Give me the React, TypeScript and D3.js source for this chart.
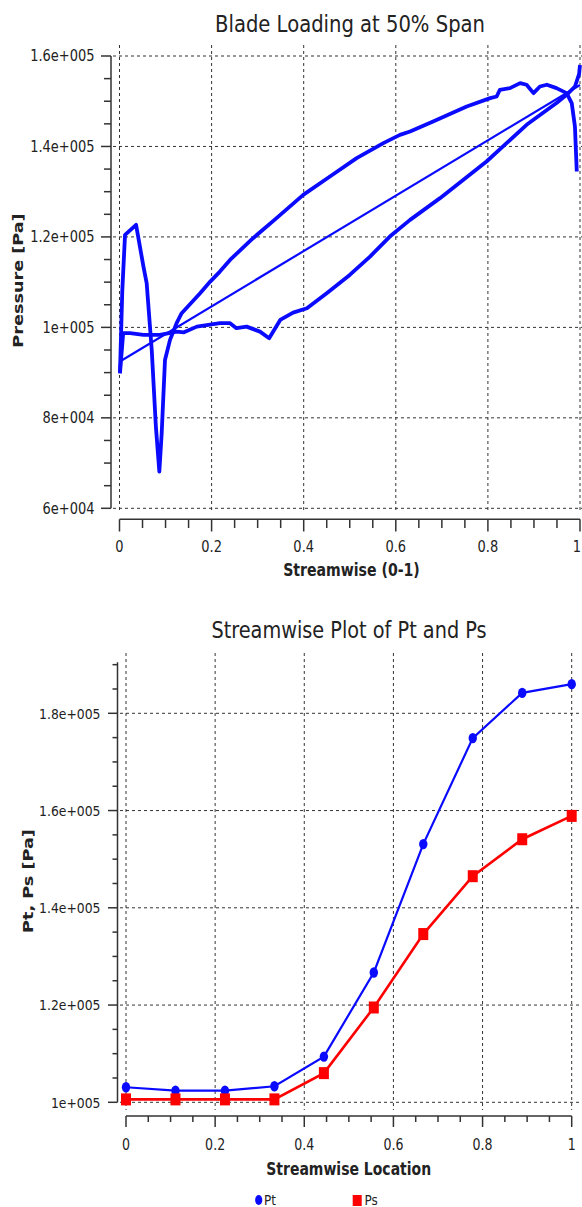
import React from 'react';
import * as d3 from 'd3';

const FONT = '"DejaVu Sans", Verdana, sans-serif';
const SY = 1.2;
const BLUE = '#0a0aff';
const RED = '#ff0000';
const AXIS = '#333333';
const GRID = '#333333';
const TEXT = '#222222';

// ---------- Top chart: Blade Loading at 50% Span ----------
const suctionX = [1.0, 0.998, 0.989, 0.971, 0.949, 0.884, 0.797, 0.696, 0.631, 0.587, 0.544, 0.5, 0.45, 0.407, 0.377, 0.349, 0.325, 0.305, 0.276, 0.254, 0.24, 0.218, 0.168, 0.14, 0.124, 0.088, 0.052, 0.023, 0.008, 0.001];
const suctionP = [158000, 156000, 153260, 151420, 149590, 144790, 136670, 128570, 123770, 120080, 115650, 111600, 107560, 104240, 103270, 101650, 97600, 99060, 100170, 99820, 100920, 100920, 100170, 98900, 99060, 98330, 98330, 98710, 98710, 89860];

const pressureX = [0.001, 0.006, 0.012, 0.036, 0.052, 0.059, 0.07, 0.079, 0.0865, 0.0916, 0.0988, 0.1097, 0.124, 0.135, 0.175, 0.197, 0.218, 0.24, 0.29, 0.341, 0.399, 0.457, 0.515, 0.573, 0.609, 0.631, 0.681, 0.754, 0.805, 0.819, 0.826, 0.848, 0.87, 0.884, 0.899, 0.913, 0.928, 0.949, 0.971, 0.982, 0.989, 0.993];
const pressureP = [89860, 108000, 120455, 122670, 113440, 109770, 95020, 78050, 68100, 76590, 92800, 97230, 100920, 103130, 107560, 110130, 112340, 114920, 119720, 124150, 129300, 133350, 137420, 140740, 142570, 143300, 145520, 148840, 150690, 151050, 152530, 152900, 154010, 153640, 151790, 153260, 153640, 152900, 151790, 149590, 144420, 134460];

const chordX = [0, 1];
const chordP = [92400, 153600];

const topYTicks = [60000, 80000, 100000, 120000, 140000, 160000];
const topYTickLabels = ['6e+004', '8e+004', '1e+005', '1.2e+005', '1.4e+005', '1.6e+005'];
const topXTicks = [0, 0.2, 0.4, 0.6, 0.8, 1];
const topXTickLabels = ['0', '0.2', '0.4', '0.6', '0.8', '1'];

// ---------- Bottom chart: Streamwise Plot of Pt and Ps ----------
const locX = [0, 0.111, 0.222, 0.333, 0.444, 0.556, 0.667, 0.778, 0.889, 1.0];
const ptVals = [103100, 102400, 102400, 103300, 109400, 126700, 153100, 174900, 184200, 186000];
const psVals = [100600, 100600, 100600, 100600, 106000, 119500, 134600, 146500, 154100, 158900];

const botYTicks = [100000, 120000, 140000, 160000, 180000];
const botYTickLabels = ['1e+005', '1.2e+005', '1.4e+005', '1.6e+005', '1.8e+005'];
const botXTicks = [0, 0.2, 0.4, 0.6, 0.8, 1];
const botXTickLabels = ['0', '0.2', '0.4', '0.6', '0.8', '1'];

const legendNames = ['Pt', 'Ps'];

function zip(xs: number[], ys: number[]): [number, number][] {
  return xs.map((x, i) => [x, ys[i]] as [number, number]);
}

function T(props: {
  x: number; y: number; size: number; anchor?: string; weight?: string | number;
  baseline?: string; rotate?: boolean; children: React.ReactNode;
}) {
  const { x, y, size, anchor = 'start', weight = 'normal', baseline, rotate, children } = props;
  const tf = `translate(${x},${y}) scale(1,${SY})` + (rotate ? ' rotate(-90)' : '');
  return (
    <text transform={tf} textAnchor={anchor} fontSize={size} fontWeight={weight}
      dominantBaseline={baseline} fontFamily={FONT} fill={TEXT}>
      {children}
    </text>
  );
}

export default function App() {
  // top scales
  const xT = d3.scaleLinear().domain([0, 1]).range([119.5, 580]);
  const yT = d3.scaleLinear().domain([60000, 160000]).range([508.3, 56]);
  // bottom scales
  const xB = d3.scaleLinear().domain([0, 1]).range([126, 571.7]);
  const yB = d3.scaleLinear().domain([100000, 180000]).range([1102.3, 713.3]);

  const lineT = d3.line<[number, number]>().x(d => xT(d[0])).y(d => yT(d[1]));
  const lineB = d3.line<[number, number]>().x(d => xB(d[0])).y(d => yB(d[1]));

  const topMinorY = d3.range(60000, 160001, 5000).filter(v => v % 20000 !== 0);
  const topMinorX = d3.range(0, 1.0001, 0.05).filter(v => Math.abs(v * 5 - Math.round(v * 5)) > 1e-6);
  const botMinorY = d3.range(100000, 190001, 5000).filter(v => v % 20000 !== 0);
  const botMinorX = topMinorX;

  const dash = '3,3';

  return (
    <svg width={582} height={1207} style={{ position: 'absolute', left: 0, top: 0, display: 'block', background: '#fff' }}>
      <rect x={0} y={0} width={582} height={1207} fill="#ffffff" />

      {/* ===== Top chart ===== */}
      <T x={350} y={32} size={19.6} anchor="middle">Blade Loading at 50% Span</T>

      {/* grid */}
      {topYTicks.map(t => (
        <line key={'tgy' + t} x1={113} x2={582} y1={yT(t)} y2={yT(t)} stroke={GRID} strokeWidth={1} strokeDasharray={dash} />
      ))}
      {topXTicks.map(t => (
        <line key={'tgx' + t} x1={xT(t)} x2={xT(t)} y1={45} y2={513} stroke={GRID} strokeWidth={1} strokeDasharray={dash} />
      ))}

      {/* axes */}
      <line x1={111} x2={111} y1={yT(160000)} y2={yT(60000)} stroke={AXIS} strokeWidth={1.5} />
      {topYTicks.map(t => (
        <line key={'tty' + t} x1={101} x2={111} y1={yT(t)} y2={yT(t)} stroke={AXIS} strokeWidth={1.5} />
      ))}
      {topMinorY.map(t => (
        <line key={'tmy' + t} x1={104} x2={111} y1={yT(t)} y2={yT(t)} stroke={AXIS} strokeWidth={1.5} />
      ))}
      {topYTicks.map((t, i) => (
        <T key={'tly' + t} x={94.5} y={yT(t)} size={13} anchor="end" baseline="central">{topYTickLabels[i]}</T>
      ))}

      <line x1={xT(0)} x2={xT(1)} y1={519.3} y2={519.3} stroke={AXIS} strokeWidth={1.5} />
      {topXTicks.map(t => (
        <line key={'ttx' + t} x1={xT(t)} x2={xT(t)} y1={519.3} y2={531.5} stroke={AXIS} strokeWidth={1.5} />
      ))}
      {topMinorX.map(t => (
        <line key={'tmx' + t} x1={xT(t)} x2={xT(t)} y1={519.3} y2={528} stroke={AXIS} strokeWidth={1.5} />
      ))}
      {topXTicks.map((t, i) => (
        <T key={'tlx' + t} x={Math.min(xT(t), 577)} y={551.5} size={13} anchor="middle">{topXTickLabels[i]}</T>
      ))}

      <T x={351.5} y={576} size={14.1} anchor="middle" weight="bold">Streamwise (0-1)</T>
      <T x={18.5} y={280.5} size={14.7} anchor="middle" weight="bold" baseline="central" rotate>Pressure [Pa]</T>

      {/* curves */}
      <path d={lineT(zip(chordX, chordP)) || ''} fill="none" stroke={BLUE} strokeWidth={2.2} />
      <path d={lineT(zip(suctionX, suctionP)) || ''} fill="none" stroke={BLUE} strokeWidth={3.8} strokeLinejoin="round" />
      <path d={lineT(zip(pressureX, pressureP)) || ''} fill="none" stroke={BLUE} strokeWidth={3.8} strokeLinejoin="round" />

      {/* ===== Bottom chart ===== */}
      <T x={349} y={638.3} size={19.3} anchor="middle">Streamwise Plot of Pt and Ps</T>

      {botYTicks.map(t => (
        <line key={'bgy' + t} x1={120} x2={582} y1={yB(t)} y2={yB(t)} stroke={GRID} strokeWidth={1} strokeDasharray={dash} />
      ))}
      {botXTicks.map(t => (
        <line key={'bgx' + t} x1={xB(t)} x2={xB(t)} y1={653} y2={1110} stroke={GRID} strokeWidth={1} strokeDasharray={dash} />
      ))}

      <line x1={117.5} x2={117.5} y1={yB(190500)} y2={yB(100000)} stroke={AXIS} strokeWidth={1.5} />
      {botYTicks.map(t => (
        <line key={'bty' + t} x1={108} x2={117.5} y1={yB(t)} y2={yB(t)} stroke={AXIS} strokeWidth={1.5} />
      ))}
      {botMinorY.map(t => (
        <line key={'bmy' + t} x1={112.5} x2={117.5} y1={yB(t)} y2={yB(t)} stroke={AXIS} strokeWidth={1.5} />
      ))}
      {botYTicks.map((t, i) => (
        <T key={'bly' + t} x={100.5} y={yB(t)} size={12.4} anchor="end" baseline="central">{botYTickLabels[i]}</T>
      ))}

      <line x1={xB(0)} x2={xB(1)} y1={1116} y2={1116} stroke={AXIS} strokeWidth={1.5} />
      {botXTicks.map(t => (
        <line key={'btx' + t} x1={xB(t)} x2={xB(t)} y1={1116} y2={1127} stroke={AXIS} strokeWidth={1.5} />
      ))}
      {botMinorX.map(t => (
        <line key={'bmx' + t} x1={xB(t)} x2={xB(t)} y1={1116} y2={1122} stroke={AXIS} strokeWidth={1.5} />
      ))}
      {botXTicks.map((t, i) => (
        <T key={'blx' + t} x={xB(t)} y={1150} size={12.6} anchor="middle">{botXTickLabels[i]}</T>
      ))}

      <T x={348.7} y={1175} size={14} anchor="middle" weight="bold">Streamwise Location</T>
      <T x={28} y={881} size={14.7} anchor="middle" weight="bold" baseline="central" rotate>Pt, Ps [Pa]</T>

      <path d={lineB(zip(locX, ptVals)) || ''} fill="none" stroke={BLUE} strokeWidth={2.2} />
      <path d={lineB(zip(locX, psVals)) || ''} fill="none" stroke={RED} strokeWidth={2.6} />
      {locX.map((x, i) => (
        <ellipse key={'pt' + i} cx={xB(x)} cy={yB(ptVals[i])} rx={4.2} ry={5.2} fill={BLUE} />
      ))}
      {locX.map((x, i) => (
        <rect key={'ps' + i} x={xB(x) - 5} y={yB(psVals[i]) - 6} width={10} height={12} fill={RED} />
      ))}

      {/* legend */}
      <ellipse cx={258.7} cy={1200} rx={3.6} ry={5} fill={BLUE} />
      <T x={264} y={1204.5} size={12}>{legendNames[0]}</T>
      <rect x={352.7} y={1195} width={9} height={11} fill={RED} />
      <T x={364.5} y={1204.5} size={12}>{legendNames[1]}</T>
    </svg>
  );
}
